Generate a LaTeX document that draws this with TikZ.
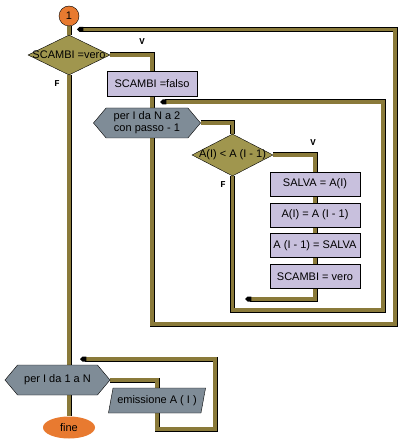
\documentclass[tikz,border=0pt]{standalone}
\usepackage{fontspec}
\setmainfont{Liberation Sans}
\setmonofont{Liberation Mono}
\usetikzlibrary{shapes.geometric,shapes.symbols,arrows.meta,backgrounds}

\definecolor{barolive}{RGB}{138,122,58}
\definecolor{testolive}{RGB}{160,150,78}
\definecolor{boxlilac}{RGB}{200,192,221}
\definecolor{loopgray}{RGB}{127,140,151}
\definecolor{endorange}{RGB}{232,122,48}

\tikzset{
  bar/.style={draw=black, line width=0.7pt, double=barolive, double distance=3.6pt, line join=miter},
  barback/.style={bar, -{Triangle Cap[]}},
  test/.style={diamond, draw=black, fill=testolive, inner sep=0pt},
  action/.style={rectangle, draw=black, fill=boxlilac, minimum width=90pt, minimum height=24pt, inner sep=1pt},
  loophead/.style={signal, signal to=west and east, signal pointer angle=100, draw=black, fill=loopgray, inner sep=1pt},
  tag/.style={font=\ttfamily\bfseries\fontsize{9}{10}\selectfont}
}

\begin{document}
\begin{tikzpicture}[x=1pt, y=-1pt, font=\fontsize{11}{12}\selectfont]
  \useasboundingbox (0,0) rectangle (408,446);

  % Start and first test
  \node[circle, draw=black, fill=endorange, minimum size=20pt, inner sep=0pt] (start) at (69,16) {1};
  \node[test, minimum width=82pt, minimum height=40pt] (testScambi) at (69,55) {\makebox[0pt]{SCAMBI =vero}};
  \node[tag] at (142,42) {V};
  \node[tag] at (57,84) {F};

  % Outer body
  \node[action, minimum height=25pt] (setFalso) at (152,83.5) {SCAMBI =falso};
  \node[loophead, minimum width=107pt, minimum height=30pt, inner sep=0pt, align=center] (forInner) at (147,123)
    {per I da N a 2\\con passo - 1};

  % Inner test
  \node[test, minimum width=81pt, minimum height=42pt] (testA) at (232.5,155) {\makebox[0pt]{A(I) < A (I - 1)}};
  \node[tag] at (313,143) {V};
  \node[tag] at (223,185) {F};

  % Swap
  \node[action] (salva) at (315,184) {SALVA = A(I)};
  \node[action] (swapA) at (315,215) {A(I) = A (I - 1)};
  \node[action] (restore) at (315,245.5) {A (I - 1) = SALVA};
  \node[action] (setVero) at (315,276.5) {SCAMBI = vero};

  % Output loop
  \node[loophead, minimum width=105pt, minimum height=30pt] (forOut) at (57.5,380) {per I da 1 a N};
  \node[trapezium, trapezium left angle=68, trapezium right angle=112, trapezium stretches=true,
    draw=black, fill=loopgray, minimum width=98pt, minimum height=25pt, inner sep=0pt] (emit) at (157,400.5)
    {emissione A ( I )};
  \node[ellipse, fill=endorange, minimum width=52pt, minimum height=22pt, inner sep=0pt] (fine) at (69,427.5) {fine};

  % Bends and arrow ends
  \coordinate (outerCorner) at (395,324);
  \coordinate (outerEnd) at (77,29.5);
  \coordinate (innerCorner) at (383,310);
  \coordinate (innerEnd) at (160,102);
  \coordinate (swapEnd) at (245,299);
  \coordinate (printCorner) at (215,429);
  \coordinate (printEnd) at (80,359);

  \begin{scope}[on background layer]
    \draw[bar] (start) -- (testScambi);
    \draw[bar] (testScambi.east) -| (setFalso.north);
    \draw[bar] (setFalso.south) -- (setFalso.south |- forInner.north);
    \draw[barback] (setFalso.south |- forInner.south) |- (outerCorner) |- (outerEnd);
    \draw[bar] (forInner.east) -| (testA.north);
    \draw[barback] (testA.south) |- (innerCorner) |- (innerEnd);
    \draw[bar] (testA.east) -| (salva.north);
    \draw[bar] (salva) -- (swapA);
    \draw[bar] (swapA) -- (restore);
    \draw[bar] (restore) -- (setVero);
    \draw[barback] (setVero.south) |- (swapEnd);
    \draw[bar] (testScambi.south) -- (testScambi.south |- forOut.north);
    \draw[bar] (testScambi.south |- forOut.south) -- (fine.north);
    \draw[bar] (forOut.east) -| (emit.north);
    \draw[barback] (emit.south) |- (printCorner) |- (printEnd);
  \end{scope}
\end{tikzpicture}
\end{document}
